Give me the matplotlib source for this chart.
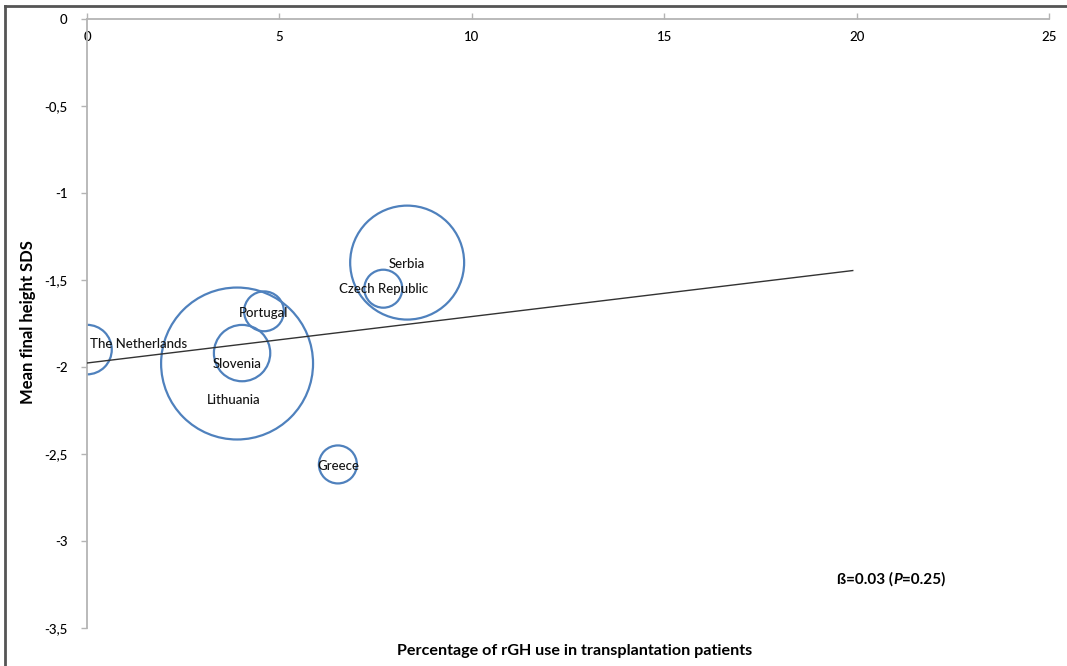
import numpy as np
import matplotlib.pyplot as plt
from matplotlib.ticker import FuncFormatter
from matplotlib.lines import Line2D
from matplotlib.offsetbox import TextArea, HPacker, AnnotationBbox

# -----------------------
# DATA
# -----------------------
countries = ["The Netherlands", "Lithuania", "Slovenia", "Portugal",
             "Serbia", "Czech Republic", "Greece"]
rgh_pct = [0.0, 3.9, 4.03, 4.6, 8.32, 7.7, 6.52]
height_sds = [-1.90, -1.98, -1.92, -1.68, -1.40, -1.55, -2.56]
bubble_size = [17, 160, 22, 11, 90, 10, 10]

# label anchor points (data units)
label_x = [1.35, 3.8, 3.9, 4.6, 8.3, 7.7, 6.52]
label_y = [-1.87, -2.19, -1.98, -1.69, -1.41, -1.55, -2.57]

fit_x = [0, 19.9]
beta = 0.0267
intercept = -1.977

# -----------------------
# FIGURE
# -----------------------
plt.rcParams["font.family"] = ["Lato", "DejaVu Sans"]
fig = plt.figure(figsize=(10.67, 6.66), dpi=100)
ax = fig.add_axes([87 / 1067, 1 - 628 / 666, (1049 - 87) / 1067, (628 - 19) / 666])

blue = "#4f81bd"
# bubble radius in points, area proportional to size
scale = 54.7 / np.sqrt(160)
diam = [2 * scale * np.sqrt(s) for s in bubble_size]
ax.scatter(rgh_pct, height_sds, s=[d ** 2 for d in diam], facecolors="none",
           edgecolors=blue, linewidths=1.6, clip_on=True, zorder=2)

fit_y = [intercept + beta * x for x in fit_x]
ax.plot(fit_x, fit_y, color="#333333", lw=1.0, zorder=3)

for name, lx, ly in zip(countries, label_x, label_y):
    ax.text(lx, ly, name, ha="center", va="center", fontsize=9.5,
            fontweight="medium", color="#141414", zorder=4)

# axes
ax.set_xlim(0, 25)
ax.set_ylim(-3.5, 0)
ax.set_xticks([0, 5, 10, 15, 20, 25])
ax.set_yticks([0, -0.5, -1, -1.5, -2, -2.5, -3, -3.5])
fmt = FuncFormatter(lambda v, p: ("%g" % v).replace(".", ","))
ax.yaxis.set_major_formatter(fmt)

for side in ["bottom", "right"]:
    ax.spines[side].set_visible(False)
for side in ["top", "left"]:
    ax.spines[side].set_color("#b4b4b4")
    ax.spines[side].set_linewidth(1.3)

ax.tick_params(axis="x", top=True, bottom=False, labeltop=True, labelbottom=False,
               direction="out", length=4, width=1, color="#b4b4b4",
               labelsize=9.5, pad=-21)
ax.tick_params(axis="y", direction="out", length=4, width=1, color="#b4b4b4",
               labelsize=9.5, pad=10)
for lbl in ax.get_xticklabels() + ax.get_yticklabels():
    lbl.set_fontweight("medium")

fig.text(28 / 1067, 1 - 322 / 666, "Mean final height SDS", rotation=90,
         ha="center", va="center", fontsize=12, fontweight="bold")
fig.text(575 / 1067, 1 - 651 / 666, "Percentage of rGH use in transplantation patients",
         ha="center", va="center", fontsize=11.6, fontweight="bold")

# regression note
parts = [TextArea("ß=0.03 (", textprops=dict(fontsize=11, fontweight="bold")),
         TextArea("P", textprops=dict(fontsize=11, fontweight="bold", style="italic")),
         TextArea("=0.25)", textprops=dict(fontsize=11, fontweight="bold"))]
note = HPacker(children=parts, pad=0, sep=0, align="baseline")
ab = AnnotationBbox(note, (19.5, -3.22), box_alignment=(0, 0.5), frameon=False,
                    xycoords="data")
ax.add_artist(ab)

# outer frame
fig.add_artist(Line2D([5 / 1067, 5 / 1067], [0, 1 - 6 / 666], transform=fig.transFigure,
                      color="#555555", lw=2))
fig.add_artist(Line2D([5 / 1067, 1], [1 - 6 / 666, 1 - 6 / 666], transform=fig.transFigure,
                      color="#555555", lw=2))

fig.savefig("out.png", dpi=100)
